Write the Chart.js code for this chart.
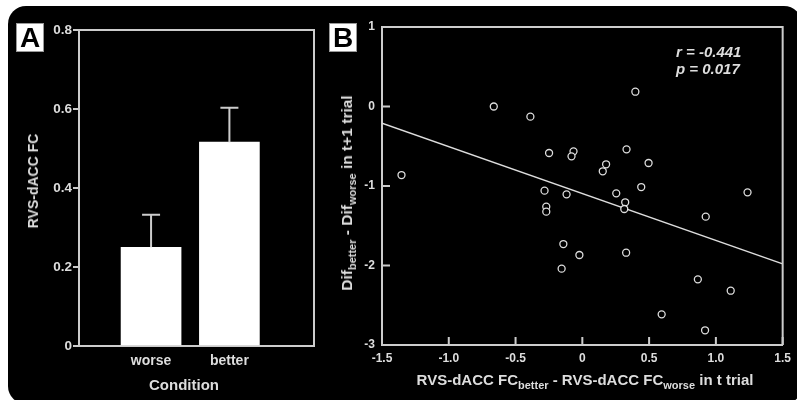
<!DOCTYPE html>
<html>
<head>
<meta charset="utf-8">
<script src="https://cdn.jsdelivr.net/npm/chart.js@4.4.0/dist/chart.umd.min.js"></script>
<style>
  body { margin: 0; width: 797px; height: 400px; background: #fff; overflow: hidden; position: relative;
         font-family: "Liberation Sans", Arial, sans-serif; }
  #panel { position: absolute; left: 8px; top: 6px; width: 794px; height: 398px; background: #000; border-radius: 18px; }
  canvas { position: absolute; top: 0; }
  #chartA { left: 0; }
  #chartB { left: 330px; }
  .tag { position: absolute; width: 28px; height: 29px; background: #fff; border: 1px solid #999; box-sizing: border-box;
         color: #000; font: bold 28px "Liberation Sans", Arial, sans-serif; line-height: 28px; text-align: center; }
  .lbl { position: absolute; color: #ddd; font-weight: bold; white-space: nowrap; transform: translate(-50%, -50%); }
  .rot { transform: translate(-50%, -50%) rotate(-90deg); }
  .lbl sub { font-size: 11px; vertical-align: -4px; line-height: 0; }
  #stats { position: absolute; left: 676px; top: 43px; color: #ddd; font: italic bold 15px "Liberation Sans", Arial, sans-serif; line-height: 17px; }
</style>
</head>
<body>
<div id="panel"></div>
<canvas id="chartA" width="330" height="400"></canvas>
<canvas id="chartB" width="467" height="400"></canvas>

<div class="tag" style="left:16px;top:23px">A</div>
<div class="tag" style="left:329px;top:23px">B</div>
<div class="lbl rot" style="left:33px;top:181px;font-size:14px">RVS-dACC FC</div>
<div class="lbl" style="left:184px;top:384px;font-size:15px">Condition</div>
<div class="lbl rot" style="left:347px;top:193px;font-size:15.5px">Dif<sub>better</sub> - Dif<sub>worse</sub> in t+1 trial</div>
<div class="lbl" style="left:585px;top:379px;font-size:15px">RVS-dACC FC<sub>better</sub> - RVS-dACC FC<sub>worse</sub> in t trial</div>
<div id="stats">r = -0.441<br>p = 0.017</div>

<script>
// Panel A: mean FC per condition, with one-sided error bars
const conditions = ['worse', 'better'];
const condMeans = [0.25, 0.516];
const condErrors = [0.082, 0.087];

// Panel B: per-subject differences
const diffFC = [-1.354, -0.663, -0.389, 0.397, -0.249, -0.066, -0.081, 0.331, 0.178, 0.153,
                0.496, -0.283, -0.118, 0.254, 0.441, 1.237, -0.27, -0.27, 0.321, 0.314,
                0.924, -0.142, -0.022, 0.328, -0.155, 0.865, 1.111, 0.594, 0.919];
const diffDif = [-0.862, 0.0, -0.128, 0.186, -0.585, -0.564, -0.627, -0.539, -0.727, -0.815,
                 -0.711, -1.059, -1.105, -1.092, -1.013, -1.08, -1.26, -1.323, -1.205, -1.289,
                 -1.386, -1.73, -1.868, -1.839, -2.04, -2.174, -2.317, -2.614, -2.815];
// regression line end points
const fitX = [-1.5, 1.5];
const fitY = [-0.21, -1.98];

const axisColor = '#cccccc';
const textColor = '#dddddd';

// draws the top and right sides of the plot box
const framePlugin = {
  id: 'frame',
  afterDraw(chart) {
    const a = chart.chartArea, ctx = chart.ctx;
    ctx.save();
    ctx.strokeStyle = axisColor;
    ctx.lineWidth = 2;
    ctx.beginPath();
    ctx.moveTo(a.left, a.top);
    ctx.lineTo(a.right, a.top);
    ctx.lineTo(a.right, a.bottom);
    ctx.stroke();
    ctx.restore();
  }
};

// error bars above the bars of panel A
const errorBars = {
  id: 'errorBars',
  afterDatasetsDraw(chart) {
    const ctx = chart.ctx, y = chart.scales.y;
    ctx.save();
    ctx.strokeStyle = axisColor;
    ctx.lineWidth = 2;
    chart.getDatasetMeta(0).data.forEach((bar, i) => {
      const top = y.getPixelForValue(condMeans[i] + condErrors[i]);
      ctx.beginPath();
      ctx.moveTo(bar.x, bar.y);
      ctx.lineTo(bar.x, top);
      ctx.moveTo(bar.x - 9, top);
      ctx.lineTo(bar.x + 9, top);
      ctx.stroke();
    });
    ctx.restore();
  }
};

// tick marks pointing into the plot (panel B)
const innerTicks = {
  id: 'innerTicks',
  afterDraw(chart) {
    const {ctx, chartArea: a, scales} = chart;
    const len = 8;
    ctx.save();
    ctx.strokeStyle = axisColor;
    ctx.lineWidth = 2;
    ctx.beginPath();
    scales.x.ticks.forEach(t => {
      const px = scales.x.getPixelForValue(t.value);
      ctx.moveTo(px, a.bottom);
      ctx.lineTo(px, a.bottom - len);
    });
    scales.y.ticks.forEach(t => {
      const py = scales.y.getPixelForValue(t.value);
      ctx.moveTo(a.left, py);
      ctx.lineTo(a.left + len, py);
    });
    ctx.stroke();
    ctx.restore();
  }
};

Chart.defaults.font.family = '"Liberation Sans", Arial, sans-serif';
Chart.defaults.font.weight = 'bold';
Chart.defaults.color = textColor;

new Chart(document.getElementById('chartA'), {
  type: 'bar',
  data: {
    datasets: [{
      data: condMeans.map((v, i) => ({x: i + 1, y: v})),
      backgroundColor: '#ffffff',
      borderWidth: 0,
      barThickness: 60
    }]
  },
  options: {
    responsive: false,
    animation: false,
    layout: {padding: {top: 30, right: 16, left: 0, bottom: 0}},
    plugins: {legend: {display: false}, tooltip: {enabled: false}},
    scales: {
      x: {
        type: 'linear',
        offset: false,
        min: 0.08,
        max: 3.08,
        afterBuildTicks: s => { s.ticks = conditions.map((c, i) => ({value: i + 1})); },
        afterFit: s => { s.height = 54; },
        ticks: {callback: v => conditions[v - 1], font: {size: 14}, padding: -1, color: textColor},
        grid: {display: false},
        border: {color: axisColor, width: 2}
      },
      y: {
        min: 0,
        max: 0.8,
        afterFit: s => { s.width = 79; },
        ticks: {stepSize: 0.2, callback: v => v === 0 ? '0' : v.toFixed(1), font: {size: 13.5}, padding: 1, color: textColor},
        grid: {drawOnChartArea: false, tickLength: 6, color: axisColor, lineWidth: 2},
        border: {color: axisColor, width: 2}
      }
    }
  },
  plugins: [framePlugin, errorBars]
});

new Chart(document.getElementById('chartB'), {
  type: 'scatter',
  data: {
    datasets: [{
      data: diffFC.map((x, i) => ({x: x, y: diffDif[i]})),
      pointStyle: 'circle',
      pointRadius: 3.5,
      borderColor: '#dddddd',
      backgroundColor: '#000000',
      borderWidth: 1.3
    }, {
      type: 'line',
      data: fitX.map((x, i) => ({x: x, y: fitY[i]})),
      borderColor: '#dddddd',
      borderWidth: 1.5,
      pointRadius: 0
    }]
  },
  options: {
    responsive: false,
    animation: false,
    layout: {padding: {top: 27, right: 9, left: 0, bottom: 0}},
    plugins: {legend: {display: false}, tooltip: {enabled: false}},
    scales: {
      x: {
        type: 'linear',
        min: -1.5,
        max: 1.5,
        afterFit: s => { s.height = 55; },
        ticks: {stepSize: 0.5, callback: v => v === 0 ? '0' : v.toFixed(1), font: {size: 12}, padding: 6, color: textColor},
        grid: {drawOnChartArea: false, drawTicks: false},
        border: {color: axisColor, width: 2}
      },
      y: {
        min: -3,
        max: 1,
        afterFit: s => { s.width = 52; },
        ticks: {stepSize: 1, font: {size: 12}, padding: 7, color: textColor},
        grid: {drawOnChartArea: false, drawTicks: false},
        border: {color: axisColor, width: 2}
      }
    }
  },
  plugins: [framePlugin, innerTicks]
});
</script>
</body>
</html>
